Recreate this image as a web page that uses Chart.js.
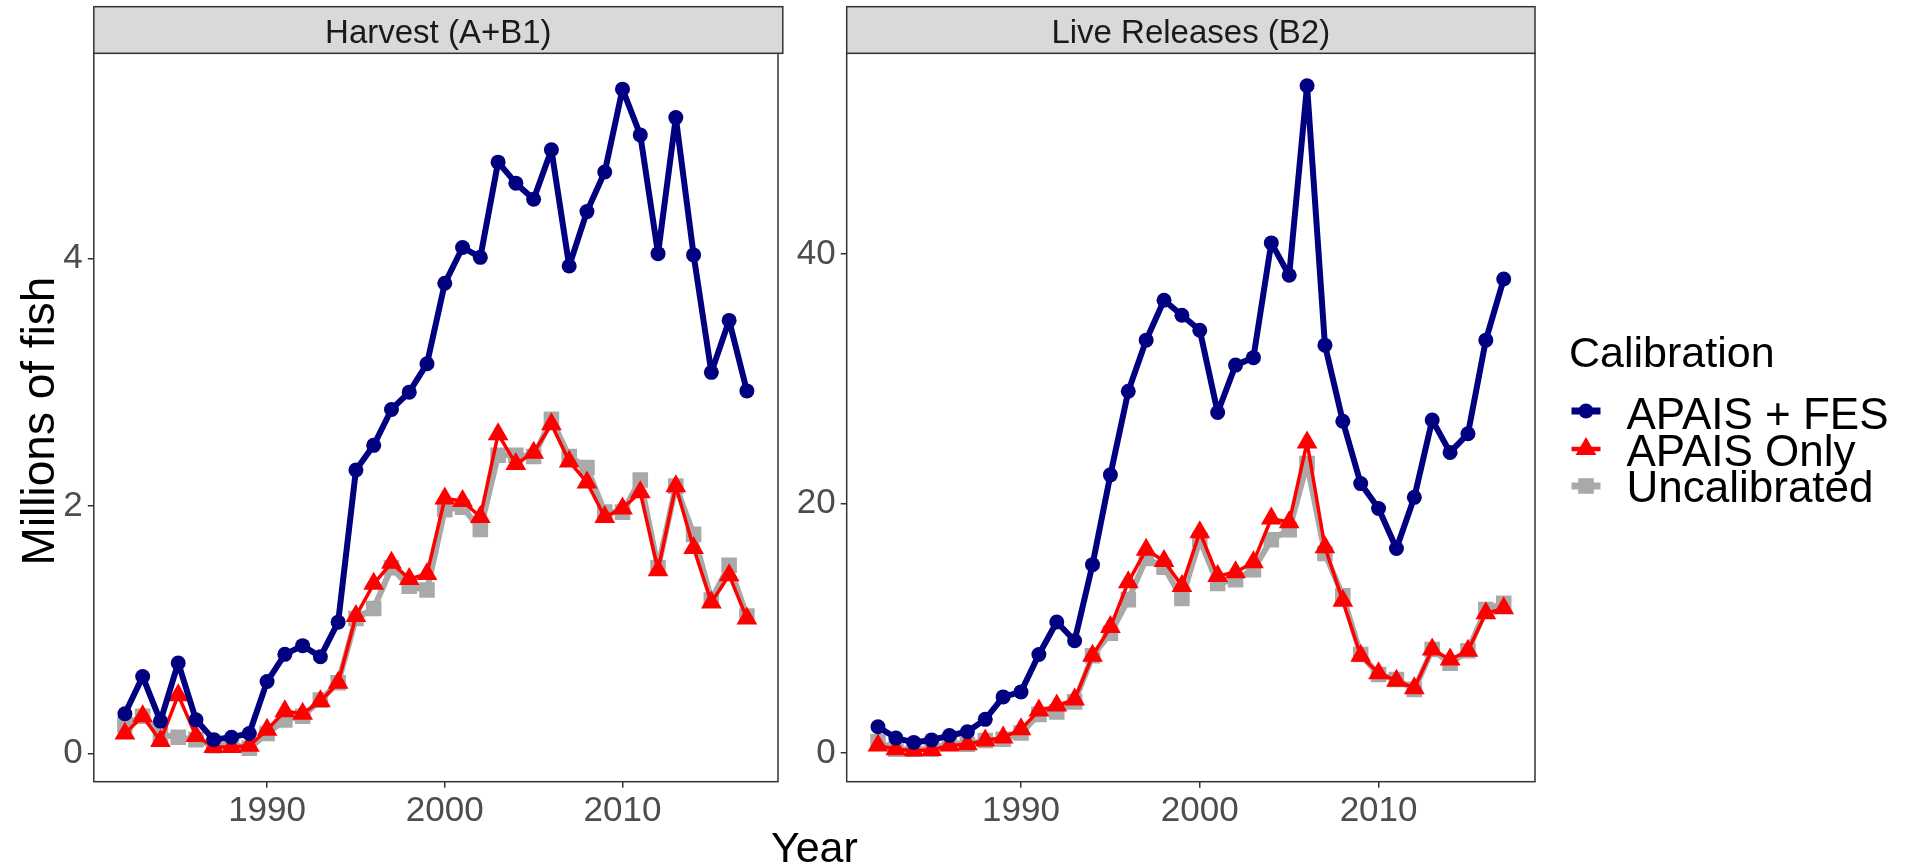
<!DOCTYPE html>
<html>
<head>
<meta charset="utf-8">
<script src="https://cdn.jsdelivr.net/npm/chart.js@4.4.1/dist/chart.umd.min.js"></script>
<style>
  html, body { margin:0; padding:0; background:#ffffff; }
  body { width:1905px; height:868px; position:relative; overflow:hidden; font-family:"Liberation Sans", Arial, sans-serif; }
  canvas { position:absolute; top:0; }
  #overlay { position:absolute; left:0; top:0; }
</style>
</head>
<body>
<canvas id="c1" width="790" height="868" style="left:0px;width:790px;height:868px"></canvas>
<canvas id="c2" width="780" height="868" style="left:790px;width:780px;height:868px"></canvas>
<svg id="overlay" width="1905" height="868" xmlns="http://www.w3.org/2000/svg" font-family="Liberation Sans, Arial, sans-serif">
  <rect x="93.8" y="6.7" width="689" height="46.6" fill="#D9D9D9" stroke="#333333" stroke-width="1.5"/>
  <text x="438.3" y="42.5" font-size="33" fill="#1A1A1A" text-anchor="middle">Harvest (A+B1)</text>
  <rect x="846.7" y="6.7" width="688.3" height="46.6" fill="#D9D9D9" stroke="#333333" stroke-width="1.5"/>
  <text x="1190.8" y="42.5" font-size="33" fill="#1A1A1A" text-anchor="middle">Live Releases (B2)</text>
  <text transform="translate(53.5,421) rotate(-90)" font-size="46" fill="#000000" text-anchor="middle">Millions of fish</text>
  <text x="814.4" y="861.7" font-size="43" fill="#000000" text-anchor="middle">Year</text>
  <text x="1569" y="366.7" font-size="43" fill="#000000">Calibration</text>
  <g id="legendKeys"></g>
  <text x="1626.5" y="428.5" font-size="44" fill="#000000">APAIS + FES</text>
  <text x="1626.5" y="466" font-size="44" fill="#000000">APAIS Only</text>
  <text x="1626.5" y="502" font-size="44" fill="#000000">Uncalibrated</text>
</svg>
<script>
// ---------- data ----------
const years = [1982,1983,1984,1985,1986,1987,1988,1989,1990,1991,1992,1993,1994,1995,1996,1997,1998,1999,
               2000,2001,2002,2003,2004,2005,2006,2007,2008,2009,2010,2011,2012,2013,2014,2015,2016,2017];

const harvestFES   = [0.32,0.62,0.26,0.73,0.27,0.11,0.13,0.16,0.58,0.80,0.87,0.78,1.06,2.29,2.49,2.78,2.92,3.15,
                      3.80,4.09,4.01,4.78,4.61,4.48,4.88,3.94,4.38,4.70,5.37,5.00,4.04,5.14,4.03,3.08,3.50,2.93];
const harvestAPAIS = [0.16,0.30,0.10,0.47,0.14,0.05,0.05,0.06,0.19,0.34,0.32,0.42,0.57,1.11,1.37,1.54,1.41,1.45,
                      2.06,2.04,1.91,2.58,2.34,2.43,2.66,2.36,2.19,1.91,1.98,2.11,1.48,2.16,1.66,1.22,1.44,1.09];
const harvestUncal = [0.23,0.30,0.15,0.13,0.11,0.06,0.07,0.04,0.16,0.27,0.30,0.43,0.57,1.09,1.17,1.50,1.35,1.32,
                      1.97,1.99,1.81,2.41,2.41,2.40,2.70,2.40,2.31,1.95,1.95,2.21,1.50,2.16,1.77,1.24,1.52,1.11];

const releaseFES   = [2.1,1.2,0.85,1.05,1.4,1.7,2.7,4.5,4.9,7.9,10.5,9.0,15.1,22.3,29.0,33.1,36.3,35.1,
                      33.9,27.3,31.1,31.7,40.9,38.3,53.5,32.7,26.6,21.6,19.6,16.4,20.5,26.7,24.1,25.6,33.1,38.0];
const releaseAPAIS = [0.6,0.3,0.2,0.25,0.6,0.7,1.0,1.25,1.9,3.4,3.8,4.3,7.8,10.1,13.7,16.3,15.4,13.4,
                      17.7,14.2,14.5,15.3,18.8,18.5,24.9,16.5,12.2,7.8,6.4,5.8,5.2,8.3,7.5,8.2,11.2,11.6];
const releaseUncal = [0.9,0.3,0.3,0.3,0.8,0.7,1.0,1.1,1.6,3.1,3.3,4.1,7.8,9.6,12.3,15.6,14.9,12.4,
                      17.1,13.6,13.9,14.7,17.1,17.9,23.2,16.0,12.6,7.9,6.3,5.9,5.1,8.3,7.2,8.2,11.5,12.0];

const xTicks = [1990, 2000, 2010];
const harvestTicks = [0, 2, 4];
const releaseTicks = [0, 20, 40];

const seriesNames = ['APAIS + FES', 'APAIS Only', 'Uncalibrated'];
const seriesColors = ['#000080', '#FF0000', '#A9A9A9'];
const seriesStyles = ['circle', 'triangle', 'rect'];
const seriesRadius = [7.5, 12, 11];
const seriesWidth = [6, 3.5, 6];

// ---------- helpers ----------
function toXY(vals){ return years.map((y,i)=>({x:y, y:vals[i]})); }

function makeDatasets(list){
  return list.map((vals,i)=>({
    label: seriesNames[i],
    data: toXY(vals),
    borderColor: seriesColors[i],
    backgroundColor: seriesColors[i],
    pointBackgroundColor: seriesColors[i],
    pointBorderWidth: 0,
    pointStyle: seriesStyles[i],
    pointRadius: seriesRadius[i],
    borderWidth: seriesWidth[i],
    borderJoinStyle: 'round',
    borderCapStyle: 'butt',
    tension: 0,
    fill: false
  }));
}

const boxPlugin = {
  id: 'box',
  afterDraw(chart){
    const a = chart.chartArea, ctx = chart.ctx;
    ctx.save();
    ctx.strokeStyle = '#333333';
    ctx.lineWidth = 1.5;
    ctx.strokeRect(a.left, a.top, a.right - a.left, a.bottom - a.top);
    ctx.restore();
  }
};

function makeChart(id, datasets, yMin, yMax, yTicks, yWidth, padRight){
  const tickFont = {family: '"Liberation Sans", Arial, sans-serif', size: 35};
  return new Chart(document.getElementById(id), {
    type: 'line',
    data: { datasets },
    options: {
      responsive: false,
      maintainAspectRatio: false,
      devicePixelRatio: 1,
      animation: false,
      events: [],
      layout: { padding: { left: 0, top: 53.3, right: padRight, bottom: 0 } },
      plugins: { legend: {display:false}, tooltip: {enabled:false}, title:{display:false} },
      scales: {
        x: {
          type: 'linear', min: 1980.25, max: 2018.75,
          afterBuildTicks(s){ s.ticks = xTicks.map(v=>({value:v})); },
          afterFit(s){ s.height = 868 - 781.7; },
          grid: { display:true, drawOnChartArea:false, drawTicks:true, tickLength:6, color:'#333333', lineWidth:1.5 },
          border: { display:false },
          ticks: { font: tickFont, color:'#4D4D4D', padding:3, maxRotation:0, autoSkip:false,
                   callback: v => String(v) }
        },
        y: {
          type: 'linear', min: yMin, max: yMax,
          afterBuildTicks(s){ s.ticks = yTicks.map(v=>({value:v})); },
          afterFit(s){ s.width = yWidth; },
          grid: { display:true, drawOnChartArea:false, drawTicks:true, tickLength:6, color:'#333333', lineWidth:1.5 },
          border: { display:false },
          ticks: { font: tickFont, color:'#4D4D4D', padding:5, callback: v => String(v) }
        }
      }
    },
    plugins: [boxPlugin]
  });
}

makeChart('c1', makeDatasets([harvestFES, harvestAPAIS, harvestUncal]), -0.23, 5.66, harvestTicks, 93.8, 790 - 782.8);
makeChart('c2', makeDatasets([releaseFES, releaseAPAIS, releaseUncal]), -2.3, 56.1, releaseTicks, 846.7 - 790, 780 - (1535 - 790));

// ---------- legend keys ----------
(function(){
  const g = document.getElementById('legendKeys');
  const ns = 'http://www.w3.org/2000/svg';
  const ys = [411, 449, 486];
  const x0 = 1571.5, x1 = 1600.5, cx = (x0 + x1) / 2;
  seriesNames.forEach((n,i)=>{
    const y = ys[i];
    const line = document.createElementNS(ns,'line');
    line.setAttribute('x1', x0); line.setAttribute('x2', x1);
    line.setAttribute('y1', y); line.setAttribute('y2', y);
    line.setAttribute('stroke', seriesColors[i]);
    line.setAttribute('stroke-width', seriesWidth[i] + 1);
    g.appendChild(line);
    let m;
    if (seriesStyles[i] === 'circle') {
      m = document.createElementNS(ns,'circle');
      m.setAttribute('cx', cx); m.setAttribute('cy', y); m.setAttribute('r', seriesRadius[i]);
    } else if (seriesStyles[i] === 'triangle') {
      const r = seriesRadius[i];
      m = document.createElementNS(ns,'polygon');
      const pts = [[cx, y - r], [cx + r*Math.sqrt(3)/2, y + r/2], [cx - r*Math.sqrt(3)/2, y + r/2]];
      m.setAttribute('points', pts.map(p=>p.join(',')).join(' '));
    } else {
      const h = seriesRadius[i] * Math.SQRT1_2;
      m = document.createElementNS(ns,'rect');
      m.setAttribute('x', cx - h); m.setAttribute('y', y - h);
      m.setAttribute('width', 2*h); m.setAttribute('height', 2*h);
    }
    m.setAttribute('fill', seriesColors[i]);
    g.appendChild(m);
  });
})();
</script>
</body>
</html>
